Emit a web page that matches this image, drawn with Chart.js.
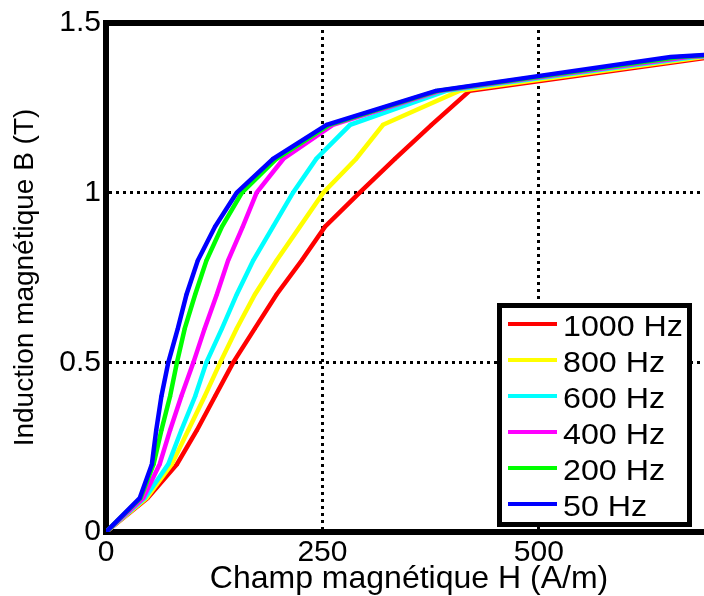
<!DOCTYPE html>
<html>
<head>
<meta charset="utf-8">
<script src="https://cdn.jsdelivr.net/npm/chart.js@4.4.0/dist/chart.umd.min.js"></script>
<style>
    html, body { margin: 0; padding: 0; overflow: hidden; background: #fff; }
    #wrap { width: 760px; height: 596px; }
</style>
</head>
<body>
<div id="wrap"><canvas id="bhChart" width="760" height="596"></canvas></div>
<script>
// Induction levels (T), shared by every curve
const inductionB = [0, 0.1, 0.2, 0.3, 0.4, 0.5, 0.6, 0.7, 0.8, 0.9, 1.0, 1.1, 1.2, 1.3, 1.4, 1.5];

// Field H (A/m) for each induction level
const h1000 = [0, 48, 82, 105, 126, 147, 172, 197, 226, 253, 293, 334, 376, 420, 700, 1300];
const h800  = [0, 47, 76, 95, 114, 132, 151, 172, 197, 224, 251, 289, 320, 408, 690, 1300];
const h600  = [0, 45, 72, 87, 103, 116, 134, 151, 170, 193, 216, 243, 282, 393, 680, 1300];
const h400  = [0, 43, 62, 74, 87, 101, 114, 128, 141, 158, 174, 205, 262, 386, 672, 1300];
const h200  = [0, 40, 55, 64, 74, 82, 91, 103, 116, 134, 157, 197, 258, 383, 662, 1300];
const h50   = [0, 39, 53, 58, 64, 72, 83, 93, 106, 126, 151, 193, 255, 381, 652, 1300];

const frequencies = ['1000 Hz', '800 Hz', '600 Hz', '400 Hz', '200 Hz', '50 Hz'];
const fieldSeries = [h1000, h800, h600, h400, h200, h50];
const xTicks = [0, 250, 500];
const yTicks = [0, 0.5, 1, 1.5];

const colors = ['#ff0000', '#ffff00', '#00ffff', '#ff00ff', '#00ff00', '#0000ff'];
const FONT = '"Liberation Sans", Arial, sans-serif';
Chart.defaults.font.family = FONT;
Chart.defaults.color = '#000';

// blue (50 Hz) must end up on top, so datasets go in reverse legend order
const datasets = frequencies.map((label, i) => ({
    label: label,
    data: fieldSeries[i].map((h, k) => ({ x: h, y: inductionB[k] })),
    borderColor: colors[i],
    backgroundColor: colors[i],
    borderWidth: 4.5,
    pointRadius: 2,
    pointBorderWidth: 0,
    tension: 0
})).reverse();

// top border + MATLAB style legend box
const framePlugin = {
    id: 'frame',
    afterDraw(chart) {
        const ctx = chart.ctx;
        const area = chart.chartArea;
        ctx.save();
        ctx.strokeStyle = '#000';
        ctx.lineWidth = 6;
        ctx.beginPath();
        ctx.moveTo(area.left - 3, area.top);
        ctx.lineTo(chart.width, area.top);
        ctx.stroke();

        // legend
        const bx = 497, by = 303, bw = 195, bh = 224;
        ctx.fillStyle = '#fff';
        ctx.fillRect(bx, by, bw, bh);
        ctx.lineWidth = 5;
        ctx.strokeRect(bx + 2.5, by + 2.5, bw - 5, bh - 5);
        frequencies.forEach((label, i) => {
            const y = 324 + i * 36;
            ctx.strokeStyle = colors[i];
            ctx.lineWidth = 4;
            ctx.beginPath();
            ctx.moveTo(508, y);
            ctx.lineTo(557, y);
            ctx.stroke();
            ctx.fillStyle = colors[i];
            ctx.beginPath();
            ctx.arc(532, y, 2, 0, Math.PI * 2);
            ctx.fill();
            ctx.save();
            ctx.translate(563, y + 12);
            ctx.scale(1.11, 1);
            ctx.fillStyle = '#000';
            ctx.font = '29px ' + FONT;
            ctx.textBaseline = 'alphabetic';
            ctx.fillText(label, 0, 0);
            ctx.restore();
        });
        ctx.restore();
    }
};

new Chart(document.getElementById('bhChart').getContext('2d'), {
    type: 'line',
    data: { datasets: datasets },
    plugins: [framePlugin],
    options: {
        responsive: false,
        animation: false,
        layout: { padding: { top: 22, right: 48, left: 0, bottom: 0 } },
        plugins: {
            legend: { display: false },
            tooltip: { enabled: false }
        },
        scales: {
            x: {
                type: 'linear',
                min: 0,
                max: 700,
                afterBuildTicks: (scale) => { scale.ticks = xTicks.map(v => ({ value: v })); },
                afterFit: (scale) => { scale.height = 64; },
                ticks: { font: { size: 30 }, color: '#000', padding: 3, maxRotation: 0 },
                grid: { color: '#000', lineWidth: 3, drawTicks: false },
                border: { color: '#000', width: 6, dash: [3, 4] },
                title: {
                    display: true,
                    text: 'Champ magnétique H (A/m)',
                    font: { size: 32 },
                    color: '#000',
                    padding: { top: 0, bottom: -2 }
                }
            },
            y: {
                type: 'linear',
                min: 0,
                max: 1.5,
                afterBuildTicks: (scale) => { scale.ticks = yTicks.map(v => ({ value: v })); },
                afterFit: (scale) => { scale.width = 106; },
                ticks: {
                    font: { size: 30 },
                    color: '#000',
                    padding: 5,
                    callback: (value) => String(value)
                },
                grid: { color: '#000', lineWidth: 3, drawTicks: false },
                border: { color: '#000', width: 6, dash: [3, 4] },
                title: {
                    display: true,
                    text: 'Induction magnétique B (T)',
                    font: { size: 28 },
                    color: '#000',
                    padding: { top: 8, bottom: 0 }
                }
            }
        }
    }
});
</script>
</body>
</html>
